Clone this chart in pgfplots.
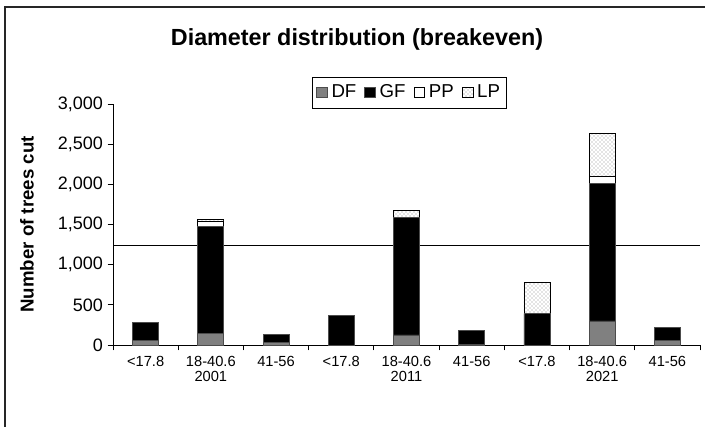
\documentclass[border=0pt]{standalone}
\usepackage{pgfplots}
\pgfplotsset{compat=1.18}
\usepackage{fontspec}
\setmainfont{Liberation Sans}
\usetikzlibrary{patterns}
\begin{document}
\begin{tikzpicture}[x=0.75pt,y=0.75pt]
\useasboundingbox (0,0) rectangle (705,426);
\begin{scope}
\clip (0,0) rectangle (705,426);
\draw[black!85, line width=1.2pt] (5,-10) -- (5,419) -- (720,419);
\end{scope}
\node[font=\bfseries\fontsize{17.5}{20}\selectfont] at (357,387) {Diameter distribution (breakeven)};
\begin{axis}[
  at={(84.75pt,60.75pt)}, anchor=south west,
  scale only axis, width=440.25pt, height=180.75pt,
  ybar stacked, bar width=19.5pt,
  xmin=-0.5, xmax=8.5, ymin=0, ymax=3000,
  axis lines*=left,
  axis line style={black, line width=0.6pt},
  tick align=outside, major tick length=4pt,
  tick style={black, line width=0.6pt},
  xtick={-0.5,0.5,...,8.5},
  x tick label as interval,
  xticklabels={{<17.8},{18-40.6\\2001},{41-56},{<17.8},{18-40.6\\2011},{41-56},{<17.8},{18-40.6\\2021},{41-56}},
  xticklabel style={align=center, font=\fontsize{11}{11.5}\selectfont, yshift=-1pt},
  ytick={0,500,...,3000},
  yticklabel style={font=\fontsize{13.5}{15}\selectfont},
  /pgf/number format/.cd, 1000 sep={,}, assume math mode=true,
  /pgfplots/.cd,
  ylabel={Number of trees cut},
  every axis y label/.style={at={(axis description cs:-0.1465,0.5)}, rotate=90, anchor=center, font=\bfseries\fontsize{14}{16}\selectfont},
  legend columns=4,
  legend style={at={(axis description cs:0.505,1.048)}, anchor=center,
    draw=black, line width=0.6pt, font=\fontsize{14}{16}\selectfont,
    inner xsep=3pt, inner ysep=4pt,
    /tikz/every odd column/.append style={column sep=1pt},
    /tikz/every even column/.append style={column sep=4pt}},
  legend image code/.code={\draw[#1, line width=0.5pt] (0pt,-4pt) rectangle (8pt,4pt);},
  clip=false,
]
\addplot[fill=black!50, draw=black!70, line width=0.6pt] coordinates {(0,58) (1,140) (2,30) (3,0) (4,125) (5,10) (6,0) (7,299) (8,58)};
\addplot[fill=black, draw=black!70, line width=0.6pt] coordinates {(0,225) (1,1333) (2,107) (3,365) (4,1465) (5,173) (6,390) (7,1715) (8,158)};
\addplot[fill=white, draw=black, line width=0.6pt] coordinates {(0,0) (1,71) (2,0) (3,0) (4,0) (5,0) (6,0) (7,87) (8,0)};
\addplot[pattern=crosshatch dots, pattern color=black!45, draw=black, line width=0.6pt] coordinates {(0,0) (1,16) (2,0) (3,0) (4,87) (5,0) (6,386) (7,539) (8,0)};
\legend{DF,GF,PP,LP}
\draw[black, line width=0.7pt] (axis cs:-0.5,1240) -- (axis cs:8.5,1240);
\end{axis}
\end{tikzpicture}
\end{document}
